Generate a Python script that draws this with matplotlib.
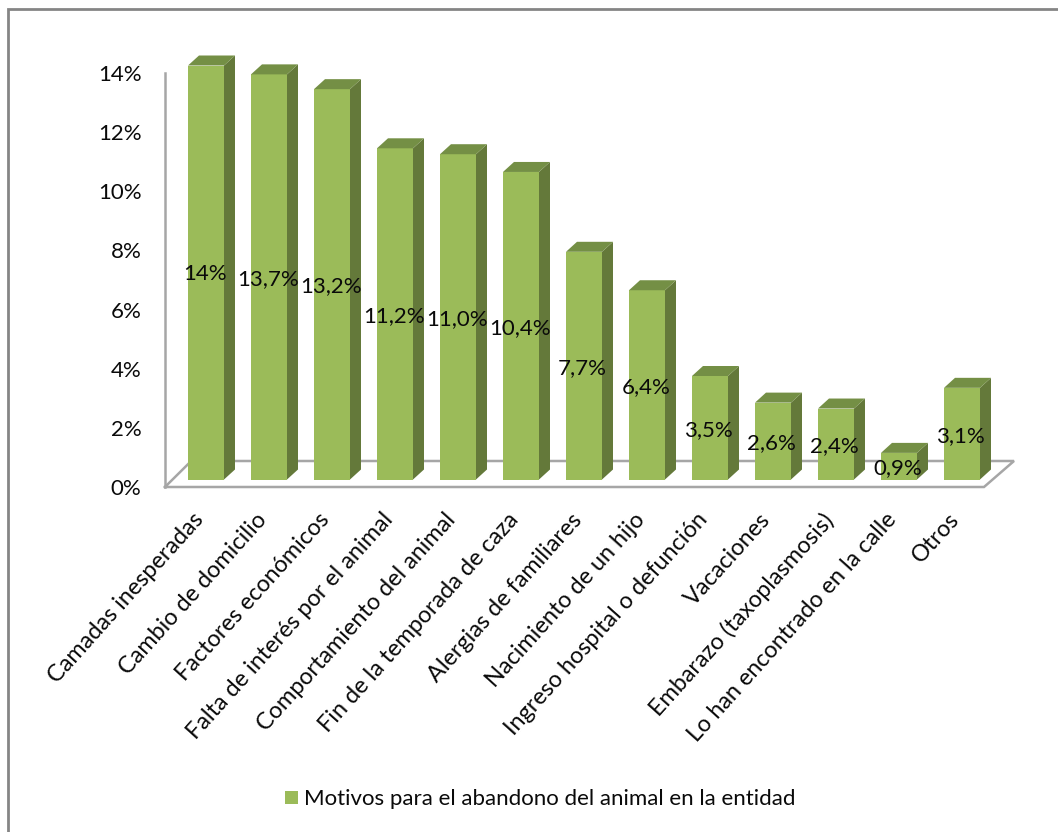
import matplotlib
matplotlib.use('Agg')
import matplotlib.pyplot as plt
from matplotlib.patches import Polygon, Rectangle
from matplotlib.transforms import ScaledTranslation

plt.rcParams['font.family'] = ['Lato', 'DejaVu Sans']

categories = ['Camadas inesperadas', 'Cambio de domicilio', 'Factores económicos',
              'Falta de interés por el animal', 'Comportamiento del animal',
              'Fin de la temporada de caza', 'Alergias de familiares',
              'Nacimiento de un hijo', 'Ingreso hospital o defunción', 'Vacaciones',
              'Embarazo (taxoplasmosis)', 'Lo han encontrado en la calle', 'Otros']
values = [14, 13.7, 13.2, 11.2, 11.0, 10.4, 7.7, 6.4, 3.5, 2.6, 2.4, 0.9, 3.1]
value_labels = ['14%', '13,7%', '13,2%', '11,2%', '11,0%', '10,4%', '7,7%', '6,4%',
                '3,5%', '2,6%', '2,4%', '0,9%', '3,1%']
y_ticks = [0, 2, 4, 6, 8, 10, 12, 14]
series_name = 'Motivos para el abandono del animal en la entidad'

W, H = 1058, 832
FRONT, SIDE, TOP = '#9BBB59', '#64793A', '#748F45'
GREY = '#A6A6A6'
TEXT = '#0A0A0A'

fig = plt.figure(figsize=(W / 100, H / 100), dpi=100)

# outer chart border, only top and left fall inside the picture
fig.add_artist(Rectangle((8 / W, 1 - 900 / H), 1200 / W, 891 / H, transform=fig.transFigure,
                         fill=False, ec='#858585', lw=2))

# axes box: front floor edge, x from 165 to 984 px, y 0 at 487 px and 14 at 73 px
ax = fig.add_axes([165 / W, 1 - 487 / H, 819 / W, 414 / H])
step = 63.0
ax.set_xlim((165 - 206) / step, (984 - 206) / step)
ax.set_ylim(0, 14)
ypx = 414 / 14
bar_w = 36 / step
dx, dy = 11 / step, 10 / ypx      # depth of a bar
base = 7.5 / ypx                  # bars stand inside the floor
x0, x1 = ax.get_xlim()
fx, fy = 30 / step, 26 / ypx      # depth of the floor

# floor back line and left edge
ax.plot([x0, x0 + fx - 0.06, x1 + fx, x1, x0], [0, fy, fy, 0, 0], color=GREY, lw=1.8,
        clip_on=False, zorder=1, solid_joinstyle='miter')

xs = list(range(len(values)))
ax.bar(xs, values, bottom=base, width=bar_w, color=FRONT, zorder=3, clip_on=False)
for x, v, lab in zip(xs, values, value_labels):
    l, r = x - bar_w / 2, x + bar_w / 2
    t = base + v
    ax.add_patch(Polygon([(r, base), (r + dx, base + dy), (r + dx, t + dy), (r, t)],
                         fc=SIDE, ec='none', zorder=3, clip_on=False))
    ax.add_patch(Polygon([(l, t), (l + dx, t + dy), (r + dx, t + dy), (r, t)],
                         fc=TOP, ec='none', zorder=3, clip_on=False))
    ax.text(x - 0.02, base + v / 2 - 2 / ypx, lab, ha='center', va='center',
            fontsize=16, color=TEXT, zorder=5)

for s in ['top', 'right', 'bottom']:
    ax.spines[s].set_visible(False)
ax.spines['left'].set_color(GREY)
ax.spines['left'].set_linewidth(1.8)
ax.patch.set_alpha(0)

ax.set_yticks(y_ticks)
ax.set_yticklabels([f'{t}%' for t in y_ticks], fontsize=16, color=TEXT)
ax.tick_params(axis='y', length=0, pad=17)
ax.set_xticks(xs)
ax.set_xticklabels(categories, rotation=48, ha='right', rotation_mode='anchor',
                   fontsize=16.8, color=TEXT)
ax.tick_params(axis='x', length=0, pad=16)
shift = ScaledTranslation(-10 / 72, 0, fig.dpi_scale_trans)
for lab in ax.get_xticklabels():
    lab.set_transform(lab.get_transform() + shift)

# legend
fig.add_artist(Rectangle((285 / W, 1 - 804 / H), 13 / W, 13 / H, transform=fig.transFigure,
                         fc=FRONT, ec='none'))
fig.text(304 / W, 1 - 799 / H, series_name, fontsize=16, color=TEXT, va='center', ha='left')

fig.savefig('out.png', dpi=100)
